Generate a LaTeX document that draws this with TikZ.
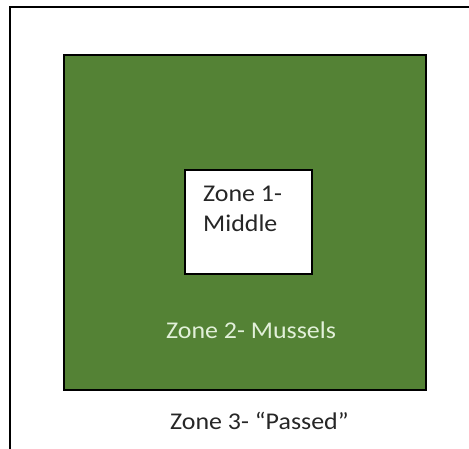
\documentclass[tikz,border=0pt]{standalone}
\usepackage{fontspec}
\setmainfont{Carlito}[FakeStretch=1.08]
\definecolor{zonegreen}{RGB}{84,130,53}
\definecolor{zonelight}{RGB}{226,240,217}
\begin{document}
\begin{tikzpicture}[x=1pt,y=-1pt,
  zoneline/.style={draw=black,line width=2pt},
  zonetext/.style={inner sep=0pt,anchor=base west,font=\fontsize{24}{30}\selectfont}]
\useasboundingbox (0,0) rectangle (469,449);
\begin{scope}
\clip (0,0) rectangle (469,449);
\draw[zoneline] (9.5,7.5) rectangle (480,470);
\end{scope}
\draw[zoneline,fill=zonegreen] (63.5,55.5) rectangle (426,390);
\draw[zoneline,fill=white] (185,170.5) rectangle (312,274);
\node[zonetext,text=black!85] (z1a) at (203,201.7) {Zone 1-};
\node[zonetext,text=black!85] (z1b) at (203,231.7) {Middle};
\node[zonetext,text=zonelight] (z2) at (166,338.3) {Zone 2- Mussels};
\node[zonetext,text=black!85] (z3) at (170,429.3) {Zone 3- “Passed”};
\end{tikzpicture}
\end{document}
